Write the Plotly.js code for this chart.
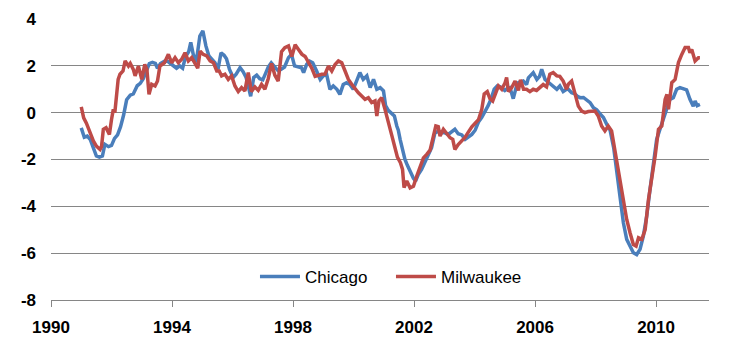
<!DOCTYPE html>
<html>
<head>
<meta charset="utf-8">
<script src="https://cdn.plot.ly/plotly-3.0.1.min.js"></script>
<style>html,body{margin:0;padding:0;background:#fff}#chart{width:744px;height:353px}</style>
</head>
<body>
<div id="chart"></div>
<script>
const chicagoYears = [1991.00,1991.10,1991.20,1991.30,1991.40,1991.50,1991.60,1991.70,1991.78,1991.90,1992.00,1992.10,1992.20,1992.30,1992.40,1992.50,1992.62,1992.72,1992.85,1992.95,1993.05,1993.15,1993.25,1993.35,1993.45,1993.52,1993.62,1993.75,1993.85,1993.95,1994.05,1994.15,1994.25,1994.35,1994.45,1994.55,1994.62,1994.70,1994.80,1994.92,1995.02,1995.12,1995.22,1995.32,1995.42,1995.52,1995.62,1995.72,1995.80,1995.90,1996.02,1996.12,1996.25,1996.35,1996.45,1996.52,1996.60,1996.70,1996.80,1996.90,1997.00,1997.10,1997.18,1997.28,1997.38,1997.50,1997.60,1997.72,1997.85,1997.95,1998.05,1998.18,1998.28,1998.35,1998.45,1998.55,1998.65,1998.78,1998.90,1999.00,1999.11,1999.22,1999.33,1999.45,1999.55,1999.66,1999.77,1999.88,1999.99,2000.10,2000.21,2000.32,2000.44,2000.55,2000.66,2000.77,2000.88,2000.99,2001.06,2001.15,2001.25,2001.35,2001.43,2001.48,2001.54,2001.62,2001.70,2001.78,2001.88,2001.98,2002.05,2002.14,2002.25,2002.36,2002.47,2002.58,2002.69,2002.80,2002.91,2003.02,2003.13,2003.24,2003.35,2003.46,2003.58,2003.69,2003.80,2003.91,2004.02,2004.13,2004.24,2004.35,2004.45,2004.55,2004.65,2004.75,2004.85,2005.00,2005.10,2005.17,2005.28,2005.38,2005.45,2005.61,2005.72,2005.78,2005.88,2005.94,2006.06,2006.15,2006.22,2006.33,2006.44,2006.55,2006.66,2006.72,2006.82,2006.93,2007.04,2007.10,2007.21,2007.32,2007.40,2007.49,2007.60,2007.70,2007.82,2007.93,2008.04,2008.15,2008.26,2008.37,2008.48,2008.60,2008.70,2008.82,2008.92,2009.03,2009.14,2009.25,2009.36,2009.47,2009.58,2009.69,2009.80,2009.91,2010.02,2010.13,2010.24,2010.35,2010.46,2010.57,2010.68,2010.79,2010.90,2011.01,2011.12,2011.23,2011.29,2011.36,2011.45];
const chicagoValues = [-0.65,-1.05,-1.0,-1.15,-1.5,-1.85,-1.9,-1.85,-1.35,-1.45,-1.4,-1.1,-0.95,-0.6,-0.1,0.55,0.75,0.8,1.15,1.25,1.45,1.8,2.1,2.15,2.1,1.9,2.1,2.2,2.2,2.1,2.0,1.9,2.0,1.9,2.4,2.6,3.0,2.5,2.15,3.27,3.49,2.85,2.42,2.3,2.13,1.85,2.56,2.45,2.3,1.85,1.5,1.64,1.92,1.75,1.5,1.14,0.7,1.5,1.6,1.45,1.4,1.7,1.95,2.13,2.0,1.8,1.85,1.95,2.35,2.49,2.0,1.95,1.92,1.71,2.06,2.2,2.13,1.78,1.42,1.57,1.64,1.0,1.14,1.0,0.78,1.2,1.28,1.2,1.0,1.35,1.71,1.42,1.57,1.07,1.42,1.0,1.07,0.93,0.3,0.1,0.0,-0.14,-0.57,-0.75,-1.14,-1.6,-2.0,-2.25,-2.55,-2.8,-2.92,-2.64,-2.42,-2.14,-1.78,-1.5,-0.86,-0.8,-0.85,-0.86,-0.93,-0.8,-0.71,-0.9,-0.95,-1.14,-1.05,-0.93,-0.75,-0.4,-0.2,0.03,0.3,0.6,1.0,1.14,1.1,0.95,1.05,1.07,0.6,1.1,1.28,1.35,1.2,1.49,1.65,1.71,1.42,1.55,1.85,1.42,1.3,1.2,1.07,1.0,1.14,0.9,1.0,1.0,0.85,0.8,0.7,0.64,0.65,0.55,0.43,0.21,0.12,-0.05,-0.21,-0.5,-0.75,-1.5,-2.5,-3.85,-4.7,-5.41,-5.7,-5.98,-6.06,-5.84,-5.27,-4.42,-3.28,-2.14,-1.14,-0.71,-0.28,0.14,0.57,0.64,1.0,1.07,1.0,0.97,0.57,0.28,0.5,0.3,0.35];

const milwaukeeYears = [1991.00,1991.08,1991.17,1991.28,1991.40,1991.50,1991.62,1991.67,1991.73,1991.82,1991.93,1992.00,1992.06,1992.11,1992.17,1992.22,1992.28,1992.38,1992.45,1992.56,1992.62,1992.72,1992.78,1992.89,1993.00,1993.10,1993.17,1993.24,1993.33,1993.44,1993.52,1993.60,1993.75,1993.88,1993.99,1994.10,1994.21,1994.32,1994.43,1994.54,1994.65,1994.76,1994.85,1994.93,1995.03,1995.15,1995.26,1995.37,1995.48,1995.56,1995.64,1995.75,1995.86,1995.97,1996.08,1996.19,1996.30,1996.41,1996.52,1996.62,1996.74,1996.85,1996.96,1997.07,1997.18,1997.29,1997.40,1997.51,1997.62,1997.73,1997.85,1997.96,1998.07,1998.18,1998.29,1998.40,1998.50,1998.62,1998.73,1998.84,1998.95,1999.06,1999.17,1999.28,1999.39,1999.50,1999.61,1999.72,1999.83,1999.94,2000.05,2000.16,2000.27,2000.38,2000.49,2000.60,2000.71,2000.77,2000.84,2000.93,2001.04,2001.15,2001.26,2001.37,2001.45,2001.55,2001.62,2001.67,2001.76,2001.87,2001.98,2002.09,2002.20,2002.31,2002.42,2002.53,2002.64,2002.72,2002.80,2002.86,2002.97,2003.08,2003.19,2003.28,2003.35,2003.46,2003.58,2003.69,2003.80,2003.91,2004.02,2004.13,2004.24,2004.32,2004.42,2004.51,2004.60,2004.68,2004.79,2004.90,2005.01,2005.06,2005.12,2005.23,2005.34,2005.45,2005.52,2005.62,2005.72,2005.83,2005.94,2006.05,2006.17,2006.27,2006.38,2006.49,2006.60,2006.72,2006.82,2006.93,2007.04,2007.10,2007.21,2007.32,2007.43,2007.54,2007.65,2007.76,2007.87,2007.98,2008.09,2008.20,2008.31,2008.42,2008.53,2008.60,2008.70,2008.82,2008.92,2009.03,2009.14,2009.25,2009.34,2009.42,2009.53,2009.64,2009.75,2009.86,2009.97,2010.08,2010.19,2010.30,2010.36,2010.41,2010.52,2010.63,2010.74,2010.85,2010.96,2011.07,2011.12,2011.18,2011.29,2011.40,2011.45];
const milwaukeeValues = [0.25,-0.22,-0.45,-0.86,-1.21,-1.43,-1.57,-1.45,-0.71,-0.64,-0.93,-0.29,0.14,0.0,0.71,1.42,1.64,1.78,2.21,1.99,2.1,1.85,1.57,1.99,1.42,2.06,1.85,0.78,1.21,1.14,1.35,1.99,2.13,2.49,2.13,2.35,2.13,2.28,2.56,2.21,2.35,2.13,1.9,2.63,2.49,2.42,2.21,2.13,1.78,1.78,1.57,1.64,1.42,1.57,1.14,0.9,1.07,0.93,1.71,0.9,1.1,0.95,1.21,1.0,1.45,2.1,1.6,1.35,2.6,2.78,2.85,2.4,2.9,2.7,2.5,2.4,2.2,1.9,1.55,1.6,1.64,1.65,1.99,1.78,2.06,2.21,2.13,1.78,1.42,1.21,1.0,0.85,0.71,0.57,0.64,0.43,0.5,-0.14,0.5,0.64,0.14,-0.35,-0.95,-1.5,-1.9,-2.14,-2.42,-3.2,-2.92,-3.21,-3.14,-2.71,-2.28,-1.93,-1.78,-1.6,-1.0,-0.57,-0.6,-1.0,-0.71,-0.9,-1.07,-1.14,-1.57,-1.36,-1.2,-1.05,-0.82,-0.6,-0.45,-0.3,0.14,0.8,0.9,0.6,0.5,0.75,1.14,1.0,1.28,1.5,0.9,1.07,1.35,0.95,1.4,1.0,1.0,0.9,1.0,0.95,1.1,1.2,1.1,1.64,1.71,1.57,1.55,1.35,1.0,1.21,1.35,0.85,0.28,0.07,0.0,0.05,0.07,0.07,-0.14,-0.57,-0.78,-0.57,-0.78,-1.28,-2.0,-2.85,-3.71,-4.56,-5.13,-5.63,-5.7,-5.34,-5.41,-4.99,-3.71,-2.85,-1.85,-0.71,-0.57,0.57,0.78,0.14,1.28,1.42,2.14,2.49,2.78,2.78,2.56,2.7,2.21,2.35,2.35];

const xTickVals = [1990, 1994, 1998, 2002, 2006, 2010];
const xTickText = ['1990', '1994', '1998', '2002', '2006', '2010'];
const yTickVals = [-8, -6, -4, -2, 0, 2, 4];
const yTickText = ['-8', '-6', '-4', '-2', '0', '2', '4'];

const font = 'Liberation Sans, Arial, sans-serif';
const traces = [
  {x: chicagoYears, y: chicagoValues, name: 'Chicago', type: 'scatter', mode: 'lines',
   line: {color: '#4A7EBB', width: 3.5}},
  {x: milwaukeeYears, y: milwaukeeValues, name: 'Milwaukee', type: 'scatter', mode: 'lines',
   line: {color: '#BE4B48', width: 3.5}}
];
const layout = {
  width: 744, height: 353,
  margin: {l: 51, r: 35, t: 19, b: 53},
  paper_bgcolor: '#ffffff', plot_bgcolor: '#ffffff',
  showlegend: true,
  legend: {orientation: 'h', x: 0.31, xanchor: 'left', y: 0.082, yanchor: 'middle',
    font: {family: font, size: 17, color: '#000'}, bgcolor: 'rgba(0,0,0,0)',
    itemwidth: 40, entrywidth: 81, entrywidthmode: 'pixels'},
  xaxis: {range: [1990, 2011.75], tickvals: xTickVals, ticktext: xTickText,
    showgrid: false, zeroline: false, showline: true, linecolor: '#868686', linewidth: 1,
    ticks: 'outside', ticklen: 6, tickcolor: '#868686', tickwidth: 1,
    tickfont: {family: font, size: 17, color: '#000', weight: 'bold'}, ticklabelstandoff: 6},
  yaxis: {range: [-8, 4], tickvals: yTickVals, ticktext: yTickText,
    showgrid: true, gridcolor: '#868686', gridwidth: 1, zeroline: false, showline: false,
    ticks: '', tickfont: {family: font, size: 17, color: '#000', weight: 'bold'}, ticklabelstandoff: 14}
};
Plotly.newPlot('chart', traces, layout, {staticPlot: true, displayModeBar: false});
</script>
</body>
</html>
